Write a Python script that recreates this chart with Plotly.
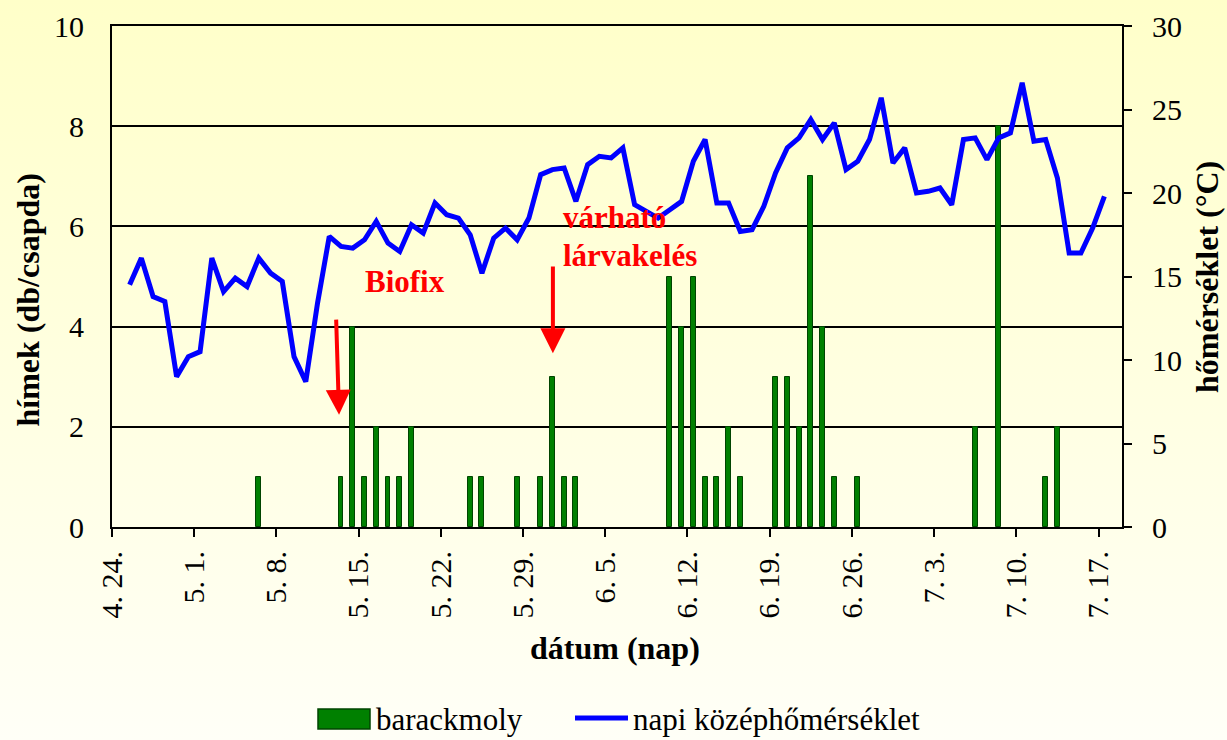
import base64
import pandas as pd
import plotly.graph_objects as go

# ---- data -------------------------------------------------------------
dates = pd.date_range("2009-04-25", "2009-07-17", freq="D")  # 84 days

barackmoly = [0, 0, 0, 0, 0, 0, 0, 0, 0, 0, 0, 1, 0, 0, 0, 0, 0, 0, 1, 4,
              1, 2, 1, 1, 2, 0, 0, 0, 0, 1, 1, 0, 0, 1, 0, 1, 3, 1, 1, 0,
              0, 0, 0, 0, 0, 0, 5, 4, 5, 1, 1, 2, 1, 0, 0, 3, 3, 2, 7, 4,
              1, 0, 1, 0, 0, 0, 0, 0, 0, 0, 0, 0, 2, 0, 8, 0, 0, 0, 1, 2,
              0, 0, 0, 0]

homerseklet = [14.5, 16.1, 13.8, 13.5, 9.0, 10.2, 10.5, 16.1, 14.1, 14.9,
               14.4, 16.1, 15.2, 14.7, 10.2, 8.7, 13.4, 17.4, 16.8, 16.7,
               17.2, 18.3, 17.0, 16.5, 18.1, 17.6, 19.4, 18.7, 18.5, 17.5,
               15.2, 17.3, 17.9, 17.2, 18.5, 21.1, 21.4, 21.5, 19.5, 21.7,
               22.2, 22.1, 22.7, 19.3, 18.9, 18.5, 19.0, 19.5, 21.9, 23.2,
               19.4, 19.4, 17.7, 17.8, 19.2, 21.2, 22.7, 23.3, 24.4, 23.2,
               24.2, 21.4, 21.9, 23.2, 25.7, 21.8, 22.7, 20.0, 20.1, 20.3,
               19.3, 23.2, 23.3, 22.0, 23.3, 23.6, 26.6, 23.1, 23.2, 20.9,
               16.4, 16.4, 17.9, 19.8]

tick_dates = pd.date_range("2009-04-24", "2009-07-17", freq="7D")
tick_labels = ["4. 24.", "5. 1.", "5. 8.", "5. 15.", "5. 22.", "5. 29.",
               "6. 5.", "6. 12.", "6. 19.", "6. 26.", "7. 3.", "7. 10.",
               "7. 17."]

series_names = ["barackmoly", "napi középhőmérséklet"]
bar_color, bar_edge, line_color = "#008000", "#004400", "#0000FF"

# bars / points sit in the middle of each day slot
x_mid = dates + pd.Timedelta(hours=12)
bar_vals = [v if v else None for v in barackmoly]

FONT = "Liberation Serif, Times New Roman, serif"

fig = go.Figure()
fig.add_trace(go.Bar(
    x=x_mid, y=bar_vals, name=series_names[0],
    width=0.42 * 86400000,
    marker=dict(color=bar_color, line=dict(color=bar_edge, width=1)),
    yaxis="y", showlegend=False,
))
fig.add_trace(go.Scatter(
    x=x_mid, y=homerseklet, name=series_names[1],
    mode="lines", line=dict(color=line_color, width=5),
    yaxis="y2", showlegend=False,
))

# background gradient
svg = ('<svg xmlns="http://www.w3.org/2000/svg" width="100" height="100" '
       'viewBox="0 0 100 100" preserveAspectRatio="none"><defs>'
       '<linearGradient id="g" x1="0" y1="0" x2="0" y2="1">'
       '<stop offset="0" stop-color="#FFFFC9"/>'
       '<stop offset="1" stop-color="#FFFFF7"/></linearGradient></defs>'
       '<rect width="100" height="100" fill="url(#g)"/></svg>')
src = "data:image/svg+xml;base64," + base64.b64encode(svg.encode()).decode()

W, H = 1227, 740
L, R, T, B = 112, 105, 26, 213
pw, ph = W - L - R, H - T - B


def px(xp):
    return (xp - L) / pw


def py(yp):
    return (H - B - yp) / ph


fig.add_layout_image(dict(
    source=src, xref="paper", yref="paper",
    x=-L / pw, y=1 + T / ph, sizex=W / pw, sizey=H / ph,
    xanchor="left", yanchor="top", sizing="stretch", layer="below",
))

ann_red = dict(color="#FF0000", size=31, family=FONT)
title_font = dict(size=32, color="black", family=FONT)
legend_font = dict(size=31, color="black", family=FONT)
annotations = [
    dict(text="<b>Biofix</b>", x=pd.Timestamp("2009-05-18 22:00"), y=4.91,
         xref="x", yref="y", showarrow=False, font=ann_red,
         xanchor="center", yanchor="middle"),
    dict(text="<b>várható</b>", x=pd.Timestamp("2009-06-01 06:00"), y=6.18,
         xref="x", yref="y", showarrow=False, xanchor="left",
         yanchor="middle", font=ann_red),
    dict(text="<b>lárvakelés</b>", x=pd.Timestamp("2009-06-01 06:00"), y=5.42,
         xref="x", yref="y", showarrow=False, xanchor="left",
         yanchor="middle", font=ann_red),
    # arrows
    dict(text="", x=pd.Timestamp("2009-05-13 08:00"), y=2.24,
         ax=pd.Timestamp("2009-05-13 02:00"), ay=4.17,
         xref="x", yref="y", axref="x", ayref="y", showarrow=True,
         arrowhead=2, arrowsize=1.25, arrowwidth=4, arrowcolor="#FF0000"),
    dict(text="", x=pd.Timestamp("2009-05-31 13:00"), y=3.47,
         ax=pd.Timestamp("2009-05-31 13:00"), ay=5.23,
         xref="x", yref="y", axref="x", ayref="y", showarrow=True,
         arrowhead=2, arrowsize=1.25, arrowwidth=4, arrowcolor="#FF0000"),
    # axis titles
    dict(text="<b>hímek (db/csapda)</b>", xref="paper", yref="paper",
         x=px(27.5), y=py(300), textangle=-90, xanchor="center",
         yanchor="middle", showarrow=False, font=title_font),
    dict(text="<b>hőmérséklet (°C)</b>", xref="paper", yref="paper",
         x=px(1207), y=py(277), textangle=-90, xanchor="center",
         yanchor="middle", showarrow=False, font=title_font),
    dict(text="<b>dátum (nap)</b>", xref="paper", yref="paper",
         x=px(615), y=py(648), xanchor="center", yanchor="middle",
         showarrow=False, font=title_font),
    # legend texts
    dict(text=series_names[0], xref="paper", yref="paper",
         x=px(374), y=py(719), xanchor="left", yanchor="middle",
         showarrow=False, font=legend_font),
    dict(text=series_names[1], xref="paper", yref="paper",
         x=px(631), y=py(719), xanchor="left", yanchor="middle",
         showarrow=False, font=legend_font),
]

shapes = [
    dict(type="rect", xref="paper", yref="paper",
         x0=px(318), x1=px(370), y0=py(729), y1=py(709),
         fillcolor=bar_color, line=dict(color=bar_edge, width=1.5)),
    dict(type="line", xref="paper", yref="paper",
         x0=px(575), x1=px(628), y0=py(718), y1=py(718),
         line=dict(color=line_color, width=5)),
]

fig.update_layout(
    width=W, height=H,
    margin=dict(l=L, r=R, t=T, b=B, autoexpand=False),
    paper_bgcolor="rgba(0,0,0,0)", plot_bgcolor="rgba(0,0,0,0)",
    font=dict(family=FONT, color="black", size=30),
    bargap=0,
    showlegend=False,
    xaxis=dict(
        type="date",
        range=[pd.Timestamp("2009-04-24"), pd.Timestamp("2009-07-19")],
        tickmode="array", tickvals=tick_dates, ticktext=tick_labels,
        tickangle=-90, ticks="outside", ticklen=8, tickwidth=2,
        tickcolor="black", showline=True, linecolor="black", linewidth=2,
        mirror=True, showgrid=False, zeroline=False,
        tickfont=dict(size=30, family=FONT), ticklabelstandoff=2,
    ),
    yaxis=dict(
        range=[0, 10], tickvals=[0, 2, 4, 6, 8, 10],
        showline=True, linecolor="black", linewidth=2,
        showgrid=True, gridcolor="black", gridwidth=1.6, zeroline=False,
        ticks="", tickfont=dict(size=30, family=FONT), ticklabelstandoff=20,
    ),
    yaxis2=dict(
        range=[0, 30], tickvals=[0, 5, 10, 15, 20, 25, 30],
        overlaying="y", side="right",
        showline=True, linecolor="black", linewidth=2,
        showgrid=False, zeroline=False,
        ticks="outside", ticklen=8, tickwidth=2, tickcolor="black",
        tickfont=dict(size=30, family=FONT), ticklabelstandoff=14,
    ),
    annotations=annotations,
    shapes=shapes,
)

fig.write_html(
    "out.html",
    config={"displayModeBar": False},
    post_script="document.body.style.margin='0';"
                "document.body.style.padding='0';"
                "document.body.style.overflow='hidden';",
)
